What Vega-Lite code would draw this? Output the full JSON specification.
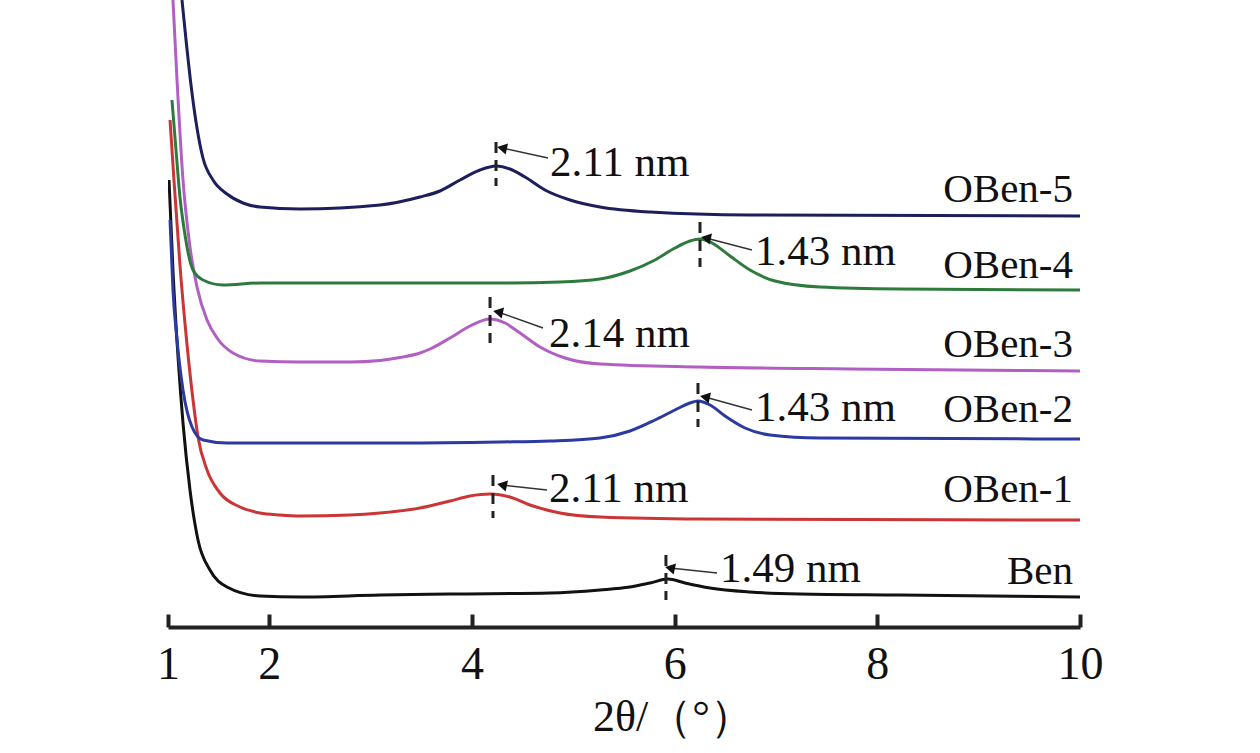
{
  "$schema": "https://vega.github.io/schema/vega-lite/v6.json",
  "width": 912,
  "height": 627,
  "autosize": {"type": "none"},
  "padding": {"left": 168, "top": 0, "right": 180, "bottom": 126},
  "background": "white",
  "config": {"view": {"stroke": null}},
  "datasets": {
    "curves": [
      {"s": "Ben", "x": 1.010, "y": 447}, {"s": "Ben", "x": 1.049, "y": 357}, {"s": "Ben", "x": 1.099, "y": 270}, {"s": "Ben", "x": 1.148, "y": 204}, {"s": "Ben", "x": 1.217, "y": 137}, {"s": "Ben", "x": 1.296, "y": 87}, {"s": "Ben", "x": 1.414, "y": 57}, {"s": "Ben", "x": 1.582, "y": 40}, {"s": "Ben", "x": 1.908, "y": 31}, {"s": "Ben", "x": 2.303, "y": 30}, {"s": "Ben", "x": 3.092, "y": 32}, {"s": "Ben", "x": 3.783, "y": 33}, {"s": "Ben", "x": 4.770, "y": 34}, {"s": "Ben", "x": 5.263, "y": 37}, {"s": "Ben", "x": 5.559, "y": 40}, {"s": "Ben", "x": 5.757, "y": 44}, {"s": "Ben", "x": 5.934, "y": 48}, {"s": "Ben", "x": 6.102, "y": 44}, {"s": "Ben", "x": 6.349, "y": 39}, {"s": "Ben", "x": 6.743, "y": 35}, {"s": "Ben", "x": 7.237, "y": 33}, {"s": "Ben", "x": 8.224, "y": 32}, {"s": "Ben", "x": 10.0, "y": 30},
      {"s": "OBen-1", "x": 1.020, "y": 507}, {"s": "OBen-1", "x": 1.059, "y": 447}, {"s": "OBen-1", "x": 1.118, "y": 362}, {"s": "OBen-1", "x": 1.188, "y": 282}, {"s": "OBen-1", "x": 1.247, "y": 227}, {"s": "OBen-1", "x": 1.296, "y": 190}, {"s": "OBen-1", "x": 1.385, "y": 157}, {"s": "OBen-1", "x": 1.513, "y": 134}, {"s": "OBen-1", "x": 1.711, "y": 120}, {"s": "OBen-1", "x": 1.908, "y": 114}, {"s": "OBen-1", "x": 2.105, "y": 112}, {"s": "OBen-1", "x": 2.303, "y": 111}, {"s": "OBen-1", "x": 2.796, "y": 112}, {"s": "OBen-1", "x": 3.092, "y": 114}, {"s": "OBen-1", "x": 3.487, "y": 119}, {"s": "OBen-1", "x": 3.783, "y": 126}, {"s": "OBen-1", "x": 3.980, "y": 131}, {"s": "OBen-1", "x": 4.178, "y": 133}, {"s": "OBen-1", "x": 4.375, "y": 130}, {"s": "OBen-1", "x": 4.572, "y": 122}, {"s": "OBen-1", "x": 4.868, "y": 114}, {"s": "OBen-1", "x": 5.263, "y": 110}, {"s": "OBen-1", "x": 6.250, "y": 108}, {"s": "OBen-1", "x": 10.0, "y": 107},
      {"s": "OBen-2", "x": 1.020, "y": 407}, {"s": "OBen-2", "x": 1.049, "y": 337}, {"s": "OBen-2", "x": 1.089, "y": 287}, {"s": "OBen-2", "x": 1.148, "y": 237}, {"s": "OBen-2", "x": 1.237, "y": 200}, {"s": "OBen-2", "x": 1.345, "y": 187}, {"s": "OBen-2", "x": 1.582, "y": 184}, {"s": "OBen-2", "x": 1.908, "y": 184}, {"s": "OBen-2", "x": 3.289, "y": 184}, {"s": "OBen-2", "x": 4.276, "y": 185}, {"s": "OBen-2", "x": 4.770, "y": 186}, {"s": "OBen-2", "x": 5.263, "y": 189}, {"s": "OBen-2", "x": 5.559, "y": 196}, {"s": "OBen-2", "x": 5.806, "y": 207}, {"s": "OBen-2", "x": 6.003, "y": 217}, {"s": "OBen-2", "x": 6.151, "y": 224}, {"s": "OBen-2", "x": 6.230, "y": 226}, {"s": "OBen-2", "x": 6.349, "y": 222}, {"s": "OBen-2", "x": 6.497, "y": 211}, {"s": "OBen-2", "x": 6.694, "y": 199}, {"s": "OBen-2", "x": 6.941, "y": 192}, {"s": "OBen-2", "x": 7.434, "y": 189}, {"s": "OBen-2", "x": 10.0, "y": 188},
      {"s": "OBen-3", "x": 1.049, "y": 627}, {"s": "OBen-3", "x": 1.089, "y": 547}, {"s": "OBen-3", "x": 1.148, "y": 447}, {"s": "OBen-3", "x": 1.217, "y": 380}, {"s": "OBen-3", "x": 1.286, "y": 340}, {"s": "OBen-3", "x": 1.385, "y": 307}, {"s": "OBen-3", "x": 1.484, "y": 289}, {"s": "OBen-3", "x": 1.641, "y": 274}, {"s": "OBen-3", "x": 1.908, "y": 266}, {"s": "OBen-3", "x": 2.303, "y": 265}, {"s": "OBen-3", "x": 2.796, "y": 265}, {"s": "OBen-3", "x": 3.092, "y": 266.5}, {"s": "OBen-3", "x": 3.289, "y": 269.5}, {"s": "OBen-3", "x": 3.487, "y": 274}, {"s": "OBen-3", "x": 3.586, "y": 278}, {"s": "OBen-3", "x": 3.783, "y": 289}, {"s": "OBen-3", "x": 3.980, "y": 301}, {"s": "OBen-3", "x": 4.178, "y": 308}, {"s": "OBen-3", "x": 4.326, "y": 304}, {"s": "OBen-3", "x": 4.474, "y": 294}, {"s": "OBen-3", "x": 4.671, "y": 280}, {"s": "OBen-3", "x": 4.918, "y": 269}, {"s": "OBen-3", "x": 5.263, "y": 263}, {"s": "OBen-3", "x": 6.250, "y": 260}, {"s": "OBen-3", "x": 7.730, "y": 258}, {"s": "OBen-3", "x": 10.0, "y": 256},
      {"s": "OBen-4", "x": 1.039, "y": 527}, {"s": "OBen-4", "x": 1.079, "y": 477}, {"s": "OBen-4", "x": 1.118, "y": 430}, {"s": "OBen-4", "x": 1.168, "y": 392}, {"s": "OBen-4", "x": 1.197, "y": 375}, {"s": "OBen-4", "x": 1.247, "y": 357}, {"s": "OBen-4", "x": 1.345, "y": 347}, {"s": "OBen-4", "x": 1.543, "y": 342}, {"s": "OBen-4", "x": 1.908, "y": 344}, {"s": "OBen-4", "x": 3.289, "y": 344}, {"s": "OBen-4", "x": 4.276, "y": 344}, {"s": "OBen-4", "x": 4.868, "y": 345}, {"s": "OBen-4", "x": 5.263, "y": 348}, {"s": "OBen-4", "x": 5.559, "y": 356}, {"s": "OBen-4", "x": 5.806, "y": 367}, {"s": "OBen-4", "x": 6.003, "y": 379}, {"s": "OBen-4", "x": 6.151, "y": 386}, {"s": "OBen-4", "x": 6.250, "y": 388}, {"s": "OBen-4", "x": 6.368, "y": 384}, {"s": "OBen-4", "x": 6.546, "y": 371}, {"s": "OBen-4", "x": 6.743, "y": 357}, {"s": "OBen-4", "x": 6.990, "y": 346}, {"s": "OBen-4", "x": 7.434, "y": 340}, {"s": "OBen-4", "x": 8.224, "y": 338}, {"s": "OBen-4", "x": 10.0, "y": 337},
      {"s": "OBen-5", "x": 1.138, "y": 627}, {"s": "OBen-5", "x": 1.178, "y": 587}, {"s": "OBen-5", "x": 1.227, "y": 542}, {"s": "OBen-5", "x": 1.286, "y": 499}, {"s": "OBen-5", "x": 1.345, "y": 469}, {"s": "OBen-5", "x": 1.444, "y": 447}, {"s": "OBen-5", "x": 1.582, "y": 433}, {"s": "OBen-5", "x": 1.740, "y": 424}, {"s": "OBen-5", "x": 1.908, "y": 420}, {"s": "OBen-5", "x": 2.303, "y": 418}, {"s": "OBen-5", "x": 3.092, "y": 422}, {"s": "OBen-5", "x": 3.487, "y": 430}, {"s": "OBen-5", "x": 3.684, "y": 436}, {"s": "OBen-5", "x": 3.882, "y": 447}, {"s": "OBen-5", "x": 4.079, "y": 457}, {"s": "OBen-5", "x": 4.237, "y": 461}, {"s": "OBen-5", "x": 4.375, "y": 458}, {"s": "OBen-5", "x": 4.523, "y": 450}, {"s": "OBen-5", "x": 4.720, "y": 437}, {"s": "OBen-5", "x": 4.967, "y": 427}, {"s": "OBen-5", "x": 5.263, "y": 420}, {"s": "OBen-5", "x": 5.757, "y": 415}, {"s": "OBen-5", "x": 6.743, "y": 412}, {"s": "OBen-5", "x": 10.0, "y": 411}
    ],
    "markers": [
      {"s": "OBen-5", "x": 4.237, "y": 485, "y2": 441},
      {"s": "OBen-4", "x": 6.250, "y": 405, "y2": 360},
      {"s": "OBen-3", "x": 4.178, "y": 330, "y2": 284},
      {"s": "OBen-2", "x": 6.230, "y": 244, "y2": 200},
      {"s": "OBen-1", "x": 4.207, "y": 152, "y2": 109},
      {"s": "Ben", "x": 5.914, "y": 72, "y2": 27}
    ],
    "arrows": [
      {"s": "OBen-5", "x": 4.750, "y": 469, "x2": 4.296, "y2": 479, "label": "2.11 nm", "tx": 4.770, "ty": 464},
      {"s": "OBen-4", "x": 6.763, "y": 377, "x2": 6.309, "y2": 389, "label": "1.43 nm", "tx": 6.793, "ty": 375},
      {"s": "OBen-3", "x": 4.701, "y": 299, "x2": 4.257, "y2": 315, "label": "2.14 nm", "tx": 4.760, "ty": 293},
      {"s": "OBen-2", "x": 6.763, "y": 217, "x2": 6.299, "y2": 230, "label": "1.43 nm", "tx": 6.793, "ty": 219},
      {"s": "OBen-1", "x": 4.740, "y": 137, "x2": 4.296, "y2": 142, "label": "2.11 nm", "tx": 4.760, "ty": 138},
      {"s": "Ben", "x": 6.418, "y": 54, "x2": 5.954, "y2": 59, "label": "1.49 nm", "tx": 6.447, "ty": 58}
    ],
    "labels": [
      {"s": "OBen-5", "x": 9.931, "y": 437},
      {"s": "OBen-4", "x": 9.931, "y": 361},
      {"s": "OBen-3", "x": 9.931, "y": 282},
      {"s": "OBen-2", "x": 9.931, "y": 217},
      {"s": "OBen-1", "x": 9.931, "y": 137},
      {"s": "Ben", "x": 9.931, "y": 55}
    ]
  },
  "layer": [
    {
      "data": {"name": "curves"},
      "mark": {"type": "line", "strokeWidth": 3, "clip": true, "interpolate": "monotone"},
      "encoding": {
        "x": {"field": "x", "type": "quantitative", "scale": {"domain": [1, 10], "nice": false, "zero": false},
          "axis": {"values": [1, 2, 4, 6, 8, 10], "format": "d", "title": "2θ/（°）", "grid": false,
            "domainColor": "#222", "domainWidth": 4, "tickColor": "#222", "tickWidth": 4, "tickSize": -13,
            "labelFont": "Liberation Serif", "labelFontSize": 46, "labelColor": "#111", "labelPadding": 28, "labelFlush": false,
            "titleFont": "Liberation Serif", "titleFontSize": 44, "titleFontWeight": "normal", "titleColor": "#111", "titlePadding": 8, "titleX": 505}},
        "y": {"field": "y", "type": "quantitative", "scale": {"domain": [0, 627], "nice": false, "zero": false}, "axis": null},
        "color": {"field": "s", "type": "nominal", "legend": null,
          "scale": {"domain": ["Ben", "OBen-1", "OBen-2", "OBen-3", "OBen-4", "OBen-5"],
            "range": ["#111111", "#cc3535", "#2a3aa0", "#b15fc2", "#2e7a3c", "#1c1f5c"]}}
      }
    },
    {
      "data": {"name": "markers"},
      "mark": {"type": "rule", "strokeWidth": 3, "strokeDash": [11, 7], "color": "#222"},
      "encoding": {
        "x": {"field": "x", "type": "quantitative"},
        "y": {"field": "y", "type": "quantitative"},
        "y2": {"field": "y2"}
      }
    },
    {
      "data": {"name": "arrows"},
      "mark": {"type": "rule", "strokeWidth": 1.5, "color": "#333"},
      "encoding": {
        "x": {"field": "x", "type": "quantitative"},
        "y": {"field": "y", "type": "quantitative"},
        "x2": {"field": "x2"},
        "y2": {"field": "y2"}
      }
    },
    {
      "data": {"name": "arrows"},
      "mark": {"type": "point", "shape": "triangle-left", "filled": true, "size": 130, "color": "#111", "opacity": 1, "angle": 12},
      "encoding": {
        "x": {"field": "x2", "type": "quantitative"},
        "y": {"field": "y2", "type": "quantitative"}
      }
    },
    {
      "data": {"name": "arrows"},
      "mark": {"type": "text", "font": "Liberation Serif", "fontSize": 43, "align": "left", "baseline": "middle", "color": "#111"},
      "encoding": {
        "x": {"field": "tx", "type": "quantitative"},
        "y": {"field": "ty", "type": "quantitative"},
        "text": {"field": "label"}
      }
    },
    {
      "data": {"name": "labels"},
      "mark": {"type": "text", "font": "Liberation Serif", "fontSize": 41, "align": "right", "baseline": "middle", "color": "#111"},
      "encoding": {
        "x": {"field": "x", "type": "quantitative"},
        "y": {"field": "y", "type": "quantitative"},
        "text": {"field": "s"}
      }
    }
  ]
}
